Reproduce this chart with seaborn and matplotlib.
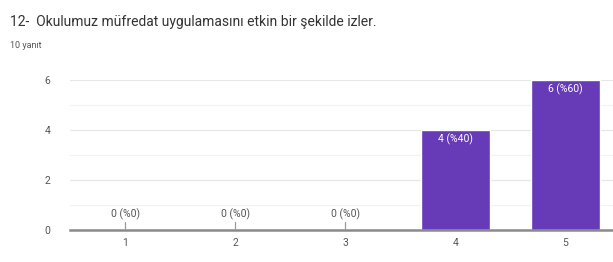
import pandas as pd
import matplotlib.pyplot as plt
import seaborn as sns

# data
categories = ['1', '2', '3', '4', '5']
counts = [0, 0, 0, 4, 6]
total = 10
title = '12-  Okulumuz müfredat uygulamasını etkin bir şekilde izler.'
subtitle = f'{total} yanıt'

sns.set_theme(style='white')
plt.rcParams['font.family'] = ['Roboto', 'DejaVu Sans']

df = pd.DataFrame({'secenek': categories, 'sayi': counts})
df['etiket'] = [f'{c} (%{round(c / total * 100)})' for c in counts]

fig = plt.figure(figsize=(6.13, 2.62), dpi=100)
ax = fig.add_axes([70 / 613, 32 / 262, 543 / 613, 150 / 262])

sns.barplot(data=df, x='secenek', y='sayi', color='#673ab7', saturation=1,
            width=0.62, ax=ax)

ax.set_ylim(0, 6)
ax.set_xlim(-0.5, 4.43)
ax.set_yticks([0, 2, 4, 6])
ax.set_yticks([1, 3, 5], minor=True)
ax.grid(axis='y', which='major', color='#e6e6e6', lw=0.8)
ax.grid(axis='y', which='minor', color='#f2f2f2', lw=0.8)
ax.set_axisbelow(True)
for s in ['top', 'right', 'left']:
    ax.spines[s].set_visible(False)
ax.spines['bottom'].set_color('#8a8a8a')
ax.spines['bottom'].set_linewidth(1.8)
ax.tick_params(axis='both', which='both', length=0, labelsize=7.5, labelcolor='#555555')
ax.tick_params(axis='x', pad=6)
ax.tick_params(axis='y', pad=14)
ax.set_xlabel('')
ax.set_ylabel('')

# value labels: inside the bar for non-zero, above a small stem for zero
for i, (v, lab) in enumerate(zip(df['sayi'], df['etiket'])):
    if v > 0:
        ax.text(i, v - 0.12, lab, ha='center', va='top', color='white', fontsize=7.5)
    else:
        ax.plot([i, i], [0, 0.32], color='#9a9a9a', lw=0.9, zorder=5)
        ax.text(i, 0.4, lab, ha='center', va='bottom', color='#555555', fontsize=7.5)

fig.text(10 / 613, 1 - 22 / 262, title, fontsize=10, color='#333333', va='center')
fig.text(10 / 613, 1 - 45 / 262, subtitle, fontsize=6.5, color='#555555', va='center')

fig.savefig('out.png', dpi=100, facecolor='white')
